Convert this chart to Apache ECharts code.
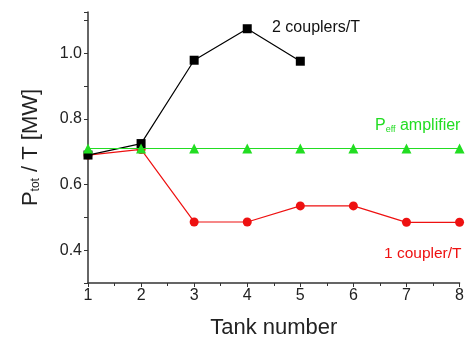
<!DOCTYPE html>
<html>
<head>
<meta charset="utf-8">
<script src="https://cdn.jsdelivr.net/npm/echarts@6/dist/echarts.min.js"></script>
<style>
  html, body { margin: 0; padding: 0; background: #fff; }
  #main { width: 467px; height: 344px; }
</style>
</head>
<body>
<div id="main"></div>
<script>
// Tank number vs P_tot / T
var tanks = [1, 2, 3, 4, 5, 6, 7, 8]
var twoCouplers = [0.69, 0.725, 0.979, 1.075, 0.976]
var oneCoupler = [0.69, 0.707, 0.486, 0.486, 0.535, 0.535, 0.485, 0.485]
var peffAmp = [0.71, 0.71, 0.71, 0.71, 0.71, 0.71, 0.71, 0.71]

function pairs(vals) {
    return vals.map(function (v, i) { return [tanks[i], v] })
}

var font = 'Liberation Sans, Arial, sans-serif'
var chart = echarts.init(document.getElementById('main'))

var option = {
    backgroundColor: '#fff',
    animation: false,
    grid: { left: 88, right: 5, top: 12, bottom: 56 },
    xAxis: {
        type: 'value',
        min: 1,
        max: 8,
        interval: 1,
        name: 'Tank number',
        nameLocation: 'middle',
        nameGap: 34,
        nameTextStyle: { fontFamily: font, fontSize: 22, color: '#222' },
        axisLine: { lineStyle: { color: '#333', width: 1.5 } },
        axisTick: { length: 4, lineStyle: { color: '#333' } },
        minorTick: { show: true, splitNumber: 2, length: 3, lineStyle: { color: '#333' } },
        axisLabel: { fontFamily: font, fontSize: 16, color: '#222', margin: 5 },
        splitLine: { show: false }
    },
    yAxis: {
        type: 'value',
        min: 0.3,
        max: 1.126,
        interval: 0.1,
        name: '{a|P}{s|tot}{a| / T [MW]}',
        nameLocation: 'middle',
        nameGap: 46,
        nameTextStyle: {
            rich: {
                a: { fontFamily: font, fontSize: 22, color: '#222' },
                s: { fontFamily: font, fontSize: 12, color: '#222', verticalAlign: 'bottom', padding: [9, 0, 0, 0] }
            }
        },
        axisLine: { show: true, lineStyle: { color: '#333', width: 1.5 } },
        axisTick: { length: 4, lineStyle: { color: '#333' } },
        axisLabel: {
            fontFamily: font, fontSize: 16, color: '#222', margin: 6,
            formatter: function (v) {
                var k = Math.round(v * 10)
                return (k % 2 === 0) ? (k / 10).toFixed(1) : ''
            }
        },
        splitLine: { show: false }
    },
    series: [
        {
            name: '2 couplers/T',
            type: 'line',
            data: pairs(twoCouplers),
            symbol: 'rect',
            symbolSize: 9,
            itemStyle: { color: '#000' },
            lineStyle: { color: '#000', width: 1.2 },
            z: 3
        },
        {
            name: 'Peff amplifier',
            type: 'line',
            data: pairs(peffAmp),
            symbol: 'triangle',
            symbolSize: 10,
            itemStyle: { color: '#22dd22' },
            lineStyle: { color: '#22dd22', width: 1.2 },
            z: 4
        },
        {
            name: '1 coupler/T',
            type: 'line',
            data: pairs(oneCoupler),
            symbol: 'circle',
            symbolSize: 9,
            itemStyle: { color: '#ee1111' },
            lineStyle: { color: '#ee1111', width: 1.2 },
            z: 2
        }
    ],
    graphic: [
        {
            type: 'text', left: 272, top: 20,
            style: { text: '2 couplers/T', font: '16px ' + font, fill: '#111' }
        },
        {
            type: 'text', left: 375, top: 118,
            style: {
                text: '{a|P}{s|eff}{a| amplifier}',
                rich: {
                    a: { fontFamily: font, fontSize: 16, fill: '#22dd22' },
                    s: { fontFamily: font, fontSize: 9, fill: '#22dd22', verticalAlign: 'bottom', padding: [7, 0, 0, 0] }
                }
            }
        },
        {
            type: 'text', left: 384, top: 246,
            style: { text: '1 coupler/T', font: '15.5px ' + font, fill: '#ee1111' }
        }
    ]
}
chart.setOption(option)
</script>
</body>
</html>
